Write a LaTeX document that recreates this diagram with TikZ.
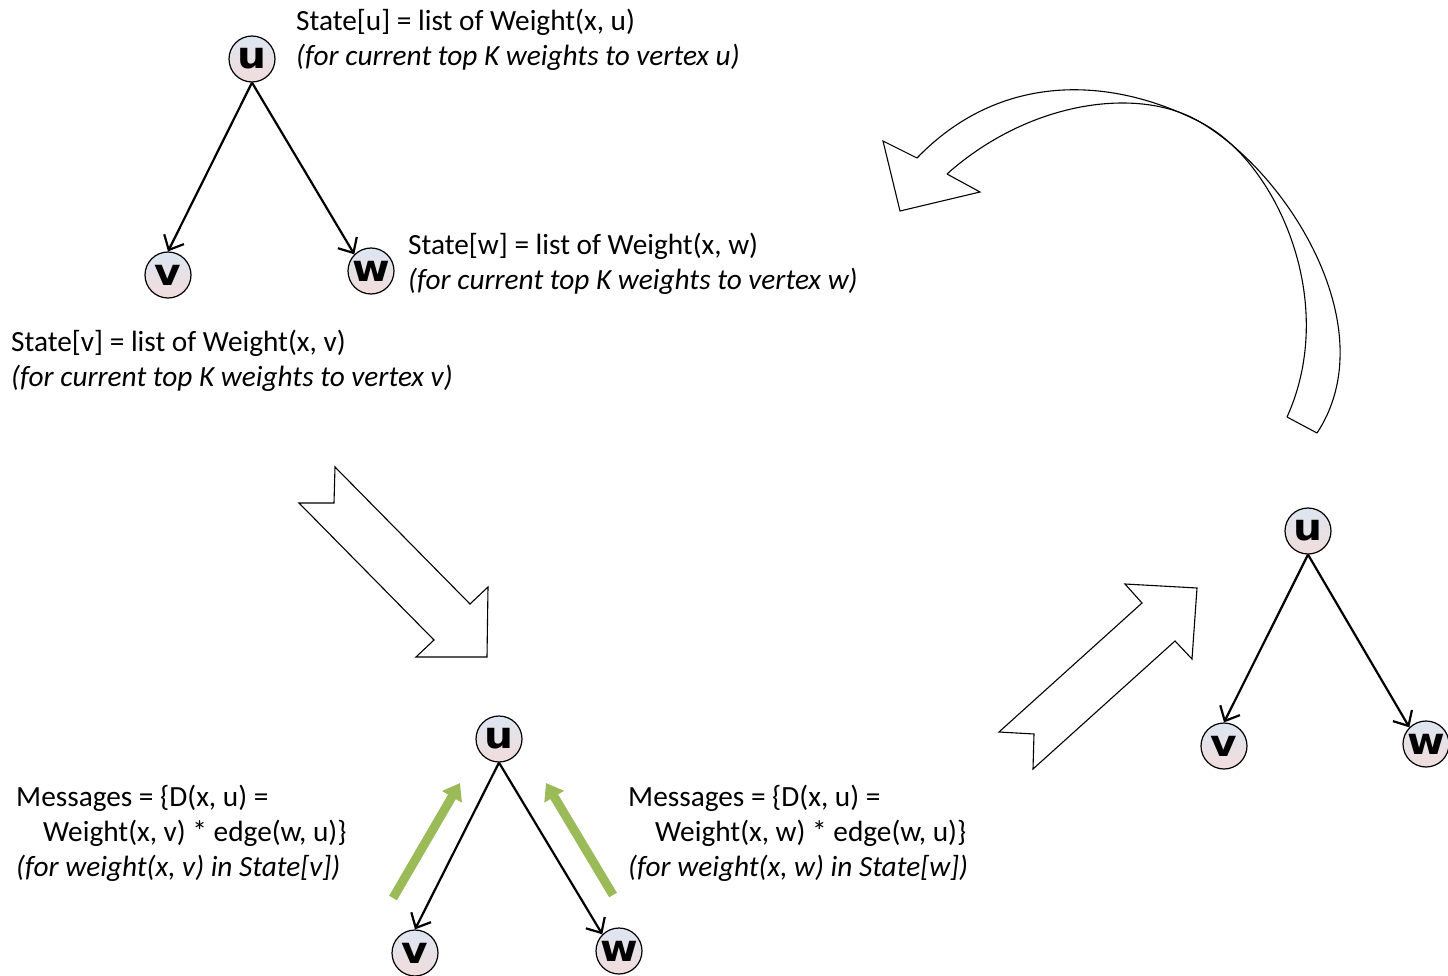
\documentclass[tikz,border=0pt]{standalone}
\usepackage{fontspec}
\setmainfont{Carlito}
\newfontfamily\nodefont[FakeStretch=1.1]{DejaVu Sans Bold}
\usetikzlibrary{arrows.meta}
\definecolor{msggreen}{HTML}{9BBB59}
\definecolor{vtop}{HTML}{DCE6F2}
\definecolor{vbot}{HTML}{F2DCDB}
\tikzset{
  vertex/.style={circle, draw=black, line width=1.2pt, minimum size=46pt, inner sep=0pt,
    top color=vtop, bottom color=vbot, font=\nodefont\fontsize{37}{37}\selectfont},
  treeedge/.style={line width=2.2pt, -{Straight Barb[length=12pt,width=22pt,line width=2.2pt]}},
  msgarrow/.style={msggreen, line width=9pt, -{Triangle[length=16pt,width=22pt]}},
  caption/.style={anchor=base west, align=left, inner sep=0pt, font=\fontsize{29.3}{35}\selectfont},
  blockarrow/.style={draw=black, line width=1.1pt, fill=white, line join=miter},
}
\begin{document}
\begin{tikzpicture}[x=1pt, y=-1pt]
\useasboundingbox (0,0) rectangle (1448,976);

% ---- tree 1: state per vertex ----
\node[vertex] (u1) at (252,59) {u};
\node[vertex] (v1) at (168,275) {v};
\node[vertex] (w1) at (371,271) {w};
\draw[treeedge] (u1.south) -- (v1.north);
\draw[treeedge] (u1.south) -- (w1.north west);
% captions are placed by the baseline of their last line
\node[caption] (su) at (296,66) {State[u] = list of Weight(x, u)\\\textit{(for current top K weights to vertex u)}};
\node[caption] (sw) at (408,290) {State[w] = list of Weight(x, w)\\\textit{(for current top K weights to vertex w)}};
\node[caption] (sv) at (11,386) {State[v] = list of Weight(x, v)\\\textit{(for current top K weights to vertex v)}};

% ---- tree 2: messages sent to u ----
\node[vertex] (u2) at (499,739) {u};
\node[vertex] (v2) at (415,953) {v};
\node[vertex] (w2) at (619,951) {w};
\draw[treeedge] (u2.south) -- (v2.north);
\draw[treeedge] (u2.south) -- (w2.north west);
\coordinate (gl0) at (393,898);
\coordinate (gl1) at (460,783);
\coordinate (gr0) at (613,895);
\coordinate (gr1) at (546,783);
\draw[msgarrow] (gl0) -- (gl1);
\draw[msgarrow] (gr0) -- (gr1);
\node[caption] (ml) at (16,876) {Messages = \{D(x, u) =\\\hspace*{27pt}Weight(x, v) * edge(w, u)\}\\\textit{(for weight(x, v) in State[v])}};
\node[caption] (mr) at (628,876) {Messages = \{D(x, u) =\\\hspace*{27pt}Weight(x, w) * edge(w, u)\}\\\textit{(for weight(x, w) in State[w])}};

% ---- tree 3: updated state ----
\node[vertex] (u3) at (1308,531) {u};
\node[vertex] (v3) at (1224,746) {v};
\node[vertex] (w3) at (1426,744) {w};
\draw[treeedge] (u3.south) -- (v3.north);
\draw[treeedge] (u3.south) -- (w3.north west);

% ---- block arrows between the steps ----
\draw[blockarrow] (335,467) -- (334,503) -- (299,503) -- (434,640) -- (416,657)
  -- (487,657) -- (488,587) -- (470,604) -- cycle;
\draw[blockarrow] (999,732) -- (1034,734) -- (1033,769) -- (1175,641) -- (1192,659)
  -- (1197,588) -- (1125,584) -- (1142,603) -- cycle;

% ---- curved arrow back to the start (a twisted ribbon) ----
\draw[blockarrow, fill=none] (1317,433) -- (1287,417);
\draw[blockarrow, fill=none] (917,158) -- (883,141) -- (900,211) -- (980,192) -- (947,174);
\draw[line width=1.1pt] (1317,433) .. controls (1385,330) and (1290,175) .. (1200,122)
  .. controls (1140,86) and (1030,100) .. (947,174);
\draw[line width=1.1pt] (1287,417) .. controls (1340,300) and (1275,160) .. (1200,122)
  .. controls (1110,76) and (1000,72) .. (917,158);
\end{tikzpicture}
\end{document}
